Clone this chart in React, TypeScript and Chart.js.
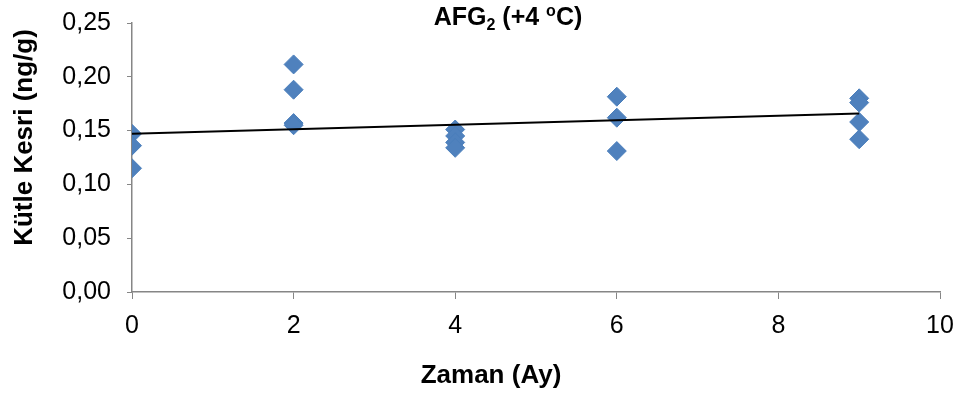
import React, { useEffect, useRef } from "react";
import { Chart, registerables } from "chart.js";

Chart.register(...registerables);

const months0 = [0, 0, 0];
const values0 = [0.147, 0.136, 0.115];
const months2 = [2, 2, 2, 2];
const values2 = [0.2115, 0.188, 0.157, 0.155];
const months4 = [4, 4, 4, 4];
const values4 = [0.151, 0.145, 0.139, 0.134];
const months6 = [6, 6, 6];
const values6 = [0.1815, 0.162, 0.131];
const months9 = [9, 9, 9, 9];
const values9 = [0.180, 0.176, 0.158, 0.142];

const trendX = [0, 9];
const trendY = [0.147, 0.166];

const yTicks = [0, 0.05, 0.1, 0.15, 0.2, 0.25];
const xTicks = [0, 2, 4, 6, 8, 10];

const FONT = "'Liberation Sans', Arial, sans-serif";
const AXIS_GRAY = "#868686";

function buildPoints() {
  const pts: { x: number; y: number }[] = [];
  const groups: [number[], number[]][] = [
    [months0, values0],
    [months2, values2],
    [months4, values4],
    [months6, values6],
    [months9, values9],
  ];
  for (const [xs, ys] of groups) {
    xs.forEach((x, i) => pts.push({ x, y: ys[i] }));
  }
  return pts;
}

const titlePlugin = {
  id: "customTitles",
  afterDraw(chart: any) {
    const ctx = chart.ctx as CanvasRenderingContext2D;
    ctx.save();
    ctx.fillStyle = "#000";
    ctx.textBaseline = "alphabetic";

    // Chart title: AFG2 (+4 oC)
    const big = 25;
    const small = 16;
    const parts: { t: string; size: number; dy: number }[] = [
      { t: "AFG", size: big, dy: 0 },
      { t: "2", size: small, dy: 5 },
      { t: " (+4 ", size: big, dy: 0 },
      { t: "o", size: small, dy: -9 },
      { t: "C)", size: big, dy: 0 },
    ];
    let total = 0;
    for (const p of parts) {
      ctx.font = `bold ${p.size}px ${FONT}`;
      total += ctx.measureText(p.t).width;
    }
    let x = 508 - total / 2;
    const baseY = 25;
    ctx.textAlign = "left";
    for (const p of parts) {
      ctx.font = `bold ${p.size}px ${FONT}`;
      ctx.fillText(p.t, x, baseY + p.dy);
      x += ctx.measureText(p.t).width;
    }

    // X axis title
    ctx.font = `bold 26px ${FONT}`;
    ctx.textAlign = "center";
    ctx.fillText("Zaman (Ay)", 491, 383);

    // Y axis title
    ctx.translate(32, 137.5);
    ctx.rotate(-Math.PI / 2);
    ctx.textAlign = "center";
    ctx.fillText("Kütle Kesri (ng/g)", 0, 0);
    ctx.restore();
  },
};

export default function App() {
  const ref = useRef<HTMLCanvasElement | null>(null);

  useEffect(() => {
    document.body.style.margin = "0";
    const canvas = ref.current;
    if (!canvas) return;
    const chart = new Chart(canvas, {
      type: "scatter",
      data: {
        datasets: [
          {
            label: "AFG2",
            data: buildPoints(),
            pointStyle: "rectRot",
            pointRadius: 9.5,
            pointHoverRadius: 9.5,
            backgroundColor: "#4F81BD",
            borderColor: "#4A7EBB",
            borderWidth: 1,
            order: 2,
          },
          {
            label: "Trend",
            type: "line",
            data: trendX.map((x, i) => ({ x, y: trendY[i] })),
            showLine: true,
            borderColor: "#000000",
            borderWidth: 2,
            pointRadius: 0,
            fill: false,
            order: 1,
          } as any,
        ],
      },
      options: {
        animation: false,
        responsive: false,
        maintainAspectRatio: false,
        layout: { padding: { left: 0, right: 22, top: 23, bottom: 0 } },
        plugins: {
          legend: { display: false },
          title: { display: false },
          tooltip: { enabled: false },
        },
        scales: {
          x: {
            type: "linear",
            min: 0,
            max: 10,
            afterBuildTicks(scale: any) {
              scale.ticks = xTicks.map((v) => ({ value: v }));
            },
            afterFit(scale: any) {
              scale.height = 105;
              scale.paddingLeft = 0;
              scale.paddingRight = 0;
            },
            ticks: {
              font: { family: FONT, size: 25 },
              color: "#000",
              padding: 12,
              maxRotation: 0,
              callback: (v: any) => String(v),
            },
            grid: {
              display: true,
              drawOnChartArea: false,
              drawTicks: true,
              tickLength: 7,
              color: AXIS_GRAY,
            },
            border: { display: true, color: AXIS_GRAY, width: 1.5 },
          },
          y: {
            type: "linear",
            min: 0,
            max: 0.25,
            afterBuildTicks(scale: any) {
              scale.ticks = yTicks.map((v) => ({ value: v }));
            },
            afterFit(scale: any) {
              scale.width = 132;
              scale.paddingTop = 0;
              scale.paddingBottom = 0;
            },
            ticks: {
              font: { family: FONT, size: 25 },
              color: "#000",
              padding: 16,
              callback: (v: any) => Number(v).toFixed(2).replace(".", ","),
            },
            grid: {
              display: true,
              drawOnChartArea: false,
              drawTicks: true,
              tickLength: 5,
              color: AXIS_GRAY,
            },
            border: { display: true, color: AXIS_GRAY, width: 1.5 },
          },
        },
      },
      plugins: [titlePlugin],
    });
    return () => chart.destroy();
  }, []);

  return (
    <div style={{ width: 962, height: 397 }}>
      <canvas ref={ref} width={962} height={397} style={{ display: "block" }} />
    </div>
  );
}
